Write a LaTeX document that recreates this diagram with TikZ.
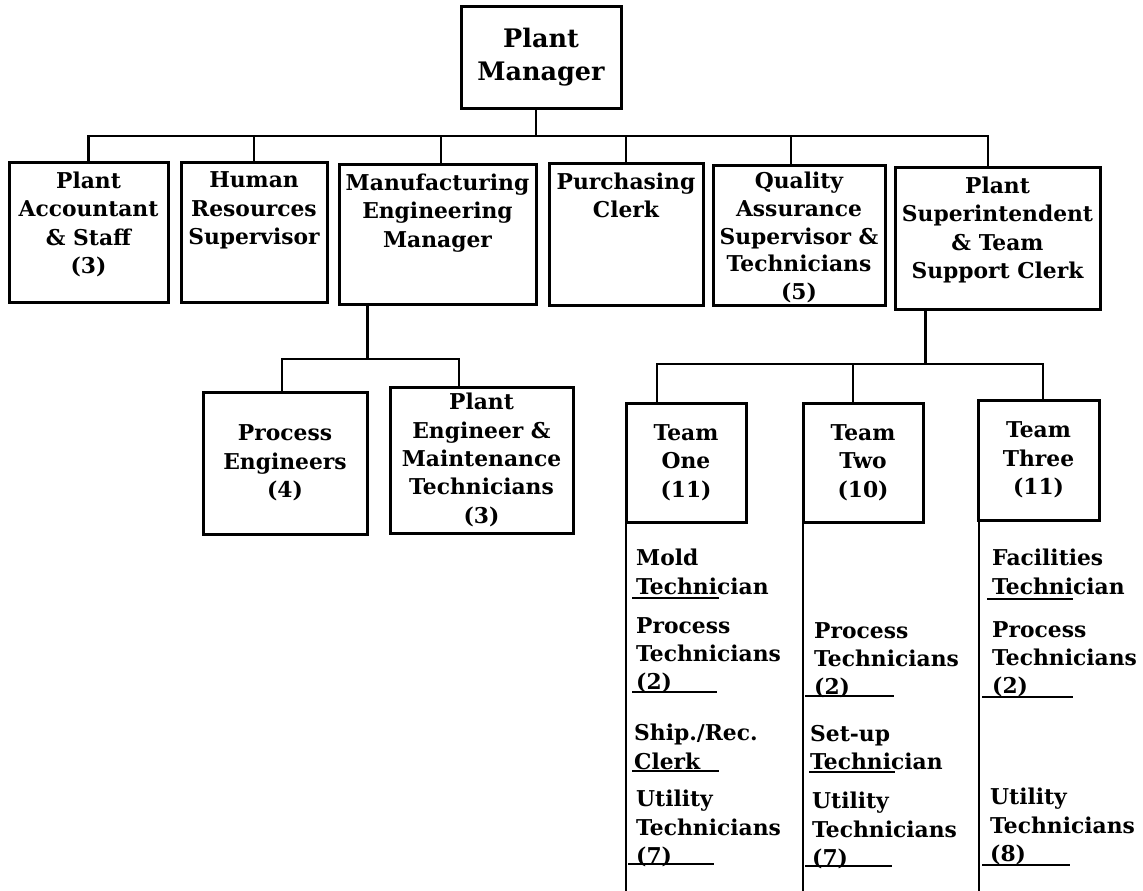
\documentclass[tikz,border=0pt]{standalone}
\usepackage{fontspec}
\setmainfont{DejaVu Serif}
\newcommand\tbox[4][10pt]{\parbox[c][#3][t]{#2}{\centering\vspace*{#1}#4\par}}
\begin{document}
\begin{tikzpicture}[x=1pt,y=-1pt,
  txt/.style={font=\bfseries\fontsize{21.8}{28.3}\selectfont},
  box/.style={draw, line width=3pt, rectangle, inner sep=0pt, txt},
  cbox/.style={box, align=center},
  ln/.style={line width=2.9pt},
  ul/.style={line width=2.5pt},
  item/.style={anchor=north west, inner sep=0pt, align=left, txt}]
\useasboundingbox (0,0) rectangle (1143,891);
\coordinate (bar) at (0,136);
\coordinate (bar2) at (0,359);
\coordinate (bar3) at (0,364);
\coordinate (bot) at (0,891);

% top
\node[cbox, minimum width=160pt, minimum height=101pt, font=\bfseries\fontsize{25.5}{33}\selectfont] (pm) at (541,57.5) {Plant\\Manager};

% level 1
\node[box] (acc) at (88.5,232) {\tbox{159pt}{140pt}{Plant\\Accountant\\\& Staff\\(3)}};
\node[box] (hr) at (254,232) {\tbox{146pt}{140pt}{Human\\Resources\\Supervisor}};
\node[box] (mfg) at (437.5,234) {\tbox{197pt}{140pt}{Manufacturing\\Engineering\\Manager}};
\node[box] (pur) at (626,234) {\tbox{154pt}{142pt}{Purchasing\\Clerk}};
\node[box] (qa) at (799,235) {\tbox[7pt]{172pt}{140pt}{\fontsize{21.8}{27.8}\selectfont Quality\\Assurance\\Supervisor \&\\Technicians\\(5)}};
\node[box] (ps) at (997.5,238) {\tbox{205pt}{142pt}{Plant\\Superintendent\\\& Team\\Support Clerk}};

% level 2 under manufacturing
\node[cbox, minimum width=164pt, minimum height=142pt] (pe) at (285,463) {Process\\Engineers\\(4)};
\node[cbox, minimum width=183pt, minimum height=146pt] (pem) at (481.5,460) {Plant\\Engineer \&\\Maintenance\\Technicians\\(3)};

% teams
\node[cbox, minimum width=120pt, minimum height=119pt] (t1) at (686,462.5) {Team\\One\\(11)};
\node[cbox, minimum width=120pt, minimum height=119pt] (t2) at (863,462.5) {Team\\Two\\(10)};
\node[cbox, minimum width=121pt, minimum height=120pt] (t3) at (1038.5,460) {Team\\Three\\(11)};

% connectors level 0-1
\coordinate (pmb) at ([xshift=-5pt]pm.south);
\coordinate (mfgt) at ([xshift=3.5pt]mfg.north);
\coordinate (qat) at ([xshift=-8pt]qa.north);
\coordinate (pst) at ([xshift=-9.5pt]ps.north);
\draw[ln] (pmb) -- (pmb |- bar);
\draw[ln] (acc.north) |- (pst |- bar) -- (pst);
\draw[ln] (hr.north) -- (hr.north |- bar);
\draw[ln] (mfgt) -- (mfgt |- bar);
\draw[ln] (pur.north) -- (pur.north |- bar);
\draw[ln] (qat) -- (qat |- bar);

% connectors manufacturing
\coordinate (mb) at ([xshift=30pt]mfg.south west);
\coordinate (pet) at ([xshift=-3pt]pe.north);
\coordinate (pemt) at ([xshift=-22.5pt]pem.north);
\draw[ln] (mb) -- (mb |- bar2);
\draw[ln] (pet) |- (pemt |- bar2) -- (pemt);

% connectors teams
\coordinate (psb) at ([xshift=32pt]ps.south west);
\coordinate (t1t) at ([xshift=-29pt]t1.north);
\coordinate (t2t) at ([xshift=-10pt]t2.north);
\coordinate (t3t) at ([xshift=4.5pt]t3.north);
\draw[ln] (psb) -- (psb |- bar3);
\draw[ln] (t1t) |- (t3t |- bar3) -- (t3t);
\draw[ln] (t2t) -- (t2t |- bar3);

% column lines
\coordinate (c1) at ([xshift=1.5pt]t1.south west);
\coordinate (c2) at ([xshift=1.5pt]t2.south west);
\coordinate (c3) at ([xshift=2.5pt]t3.south west);
\draw[ln] (c1) -- (c1 |- bot);
\draw[ln] (c2) -- (c2 |- bot);
\draw[ln] (c3) -- (c3 |- bot);

% team one column
\node[item] (a1) at (636,549) {Mold\\Technician};
\node[item] (a2) at (636,617) {Process\\Technicians\\(2)};
\node[item] (a3) at (634,724) {Ship./Rec.\\Clerk};
\node[item] (a4) at (636,790) {Utility\\Technicians\\(7)};
\draw[ul] (632,598) -- (719,598);
\draw[ul] (632,692) -- (717,692);
\draw[ul] (632,771) -- (719,771);
\draw[ul] (628,864) -- (714,864);

% team two column
\node[item] (b1) at (814,622) {Process\\Technicians\\(2)};
\node[item] (b2) at (810,725) {Set-up\\Technician};
\node[item] (b3) at (812,792) {Utility\\Technicians\\(7)};
\draw[ul] (805,696) -- (894,696);
\draw[ul] (809,772) -- (895,772);
\draw[ul] (805,866) -- (892,866);

% team three column
\node[item] (d1) at (992,549) {Facilities\\Technician};
\node[item] (d2) at (992,621) {Process\\Technicians\\(2)};
\node[item] (d3) at (990,788) {Utility\\Technicians\\(8)};
\draw[ul] (987,599) -- (1073,599);
\draw[ul] (982,697) -- (1073,697);
\draw[ul] (982,865) -- (1070,865);
\end{tikzpicture}
\end{document}
